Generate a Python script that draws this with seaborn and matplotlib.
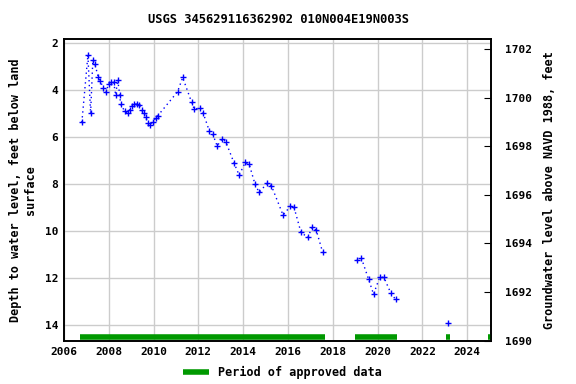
import matplotlib
matplotlib.use("Agg")
import matplotlib.pyplot as plt
import seaborn as sns
import pandas as pd
from matplotlib.lines import Line2D

# ---- data ----
years = [2006.80, 2007.07, 2007.19, 2007.29, 2007.38, 2007.53, 2007.63, 2007.75, 2007.87,
         2008.00, 2008.10, 2008.22, 2008.31, 2008.40, 2008.49, 2008.53, 2008.71, 2008.84,
         2008.93, 2009.04, 2009.14, 2009.26, 2009.36, 2009.47, 2009.56, 2009.66, 2009.73,
         2009.82, 2009.97, 2010.09, 2010.18, 2011.07, 2011.30, 2011.70, 2011.82, 2012.08,
         2012.22, 2012.49, 2012.64, 2012.84, 2013.07, 2013.23, 2013.60, 2013.82, 2014.09,
         2014.27, 2014.53, 2014.71, 2015.07, 2015.26, 2015.78, 2016.11, 2016.27, 2016.58,
         2016.89, 2017.07, 2017.26, 2017.55,
         2019.07, 2019.28, 2019.60, 2019.82, 2020.09, 2020.28, 2020.58, 2020.80,
         2023.16]
depth = [5.37, 2.51, 4.99, 2.72, 2.89, 3.43, 3.62, 3.90, 4.10,
         3.72, 3.67, 3.67, 4.21, 3.55, 4.21, 4.61, 4.89, 4.97,
         4.85, 4.68, 4.57, 4.60, 4.64, 4.85, 4.97, 5.16, 5.39,
         5.49, 5.35, 5.20, 5.10, 4.07, 3.46, 4.52, 4.82, 4.74,
         4.99, 5.74, 5.87, 6.38, 6.06, 6.21, 7.12, 7.62, 7.08,
         7.16, 8.01, 8.35, 7.97, 8.07, 9.32, 8.94, 8.99, 10.06,
         10.27, 9.84, 9.96, 10.91,
         11.25, 11.16, 12.06, 12.69, 11.97, 11.97, 12.62, 12.91,
         13.93]
segment = [0] * 58 + [1] * 8 + [2]

approved_start = [2006.70, 2019.00, 2023.04, 2024.92]
approved_end = [2017.63, 2020.87, 2023.22, 2025.10]

title = "USGS 345629116362902 010N004E19N003S"
xticks = list(range(2006, 2026, 2))
yticks_left = [2, 4, 6, 8, 10, 12, 14]
yticks_right = [1690, 1692, 1694, 1696, 1698, 1700, 1702]

df = pd.DataFrame({"year": years, "depth": depth, "seg": segment})

# ---- plot ----
sns.set_style("white")
plt.rcParams["font.family"] = ["DejaVu Sans Mono"]
plt.rcParams["font.weight"] = "bold"
plt.rcParams["text.color"] = "black"
plt.rcParams["axes.labelcolor"] = "black"
plt.rcParams["xtick.color"] = "black"
plt.rcParams["ytick.color"] = "black"

fig = plt.figure(figsize=(5.76, 3.84), dpi=100)
ax = fig.add_axes([0.111, 0.112, 0.741, 0.786])

ax.grid(True, color="#cccccc", linewidth=1.0)
ax.set_axisbelow(True)

sns.lineplot(data=df, x="year", y="depth", units="seg", estimator=None,
             color="#0000ff", linestyle=(0, (1, 2.5)), linewidth=1.0,
             sort=False, ax=ax, legend=False)
sns.scatterplot(data=df, x="year", y="depth", marker="+", color="#0000ff",
                s=16, linewidth=1.0, ax=ax, legend=False, zorder=4)

for s, e in zip(approved_start, approved_end):
    ax.hlines(14.5, s, e, color="#009900", linewidth=4, zorder=3)

ax.set_xlim(2006.0, 2025.05)
ax.set_ylim(14.68, 1.83)
ax.set_xticks(xticks)
ax.set_yticks(yticks_left)
ax.tick_params(axis="both", labelsize=8, length=0, pad=4, colors="black")
for lab in ax.get_xticklabels() + ax.get_yticklabels():
    lab.set_fontweight("bold")
ax.set_xlabel("")
ax.set_ylabel("Depth to water level, feet below land\nsurface", fontsize=8.5,
              fontweight="bold", labelpad=6, color="black")
for sp in ax.spines.values():
    sp.set_color("black")
    sp.set_linewidth(1.2)

ax2 = ax.twinx()
ax2.set_ylim(1689.98, 1702.41)
ax2.set_yticks(yticks_right)
ax2.tick_params(axis="y", direction="in", length=5, labelsize=8, pad=10,
                colors="black")
for lab in ax2.get_yticklabels():
    lab.set_fontweight("bold")
ax2.set_ylabel("Groundwater level above NAVD 1988, feet", fontsize=8.5,
               fontweight="bold", labelpad=8, color="black")
for sp in ax2.spines.values():
    sp.set_color("black")
    sp.set_linewidth(1.2)

fig.text(0.484, 0.948, title, ha="center", va="center", fontsize=8.7,
         fontweight="bold", color="black")

handle = Line2D([0], [0], color="#009900", linewidth=4, solid_capstyle="butt")
fig.legend([handle], ["Period of approved data"], loc="center",
           bbox_to_anchor=(0.49, 0.03), frameon=False,
           handlelength=2.2, prop={"weight": "bold", "size": 8.5})

fig.savefig("out.png", dpi=100)
